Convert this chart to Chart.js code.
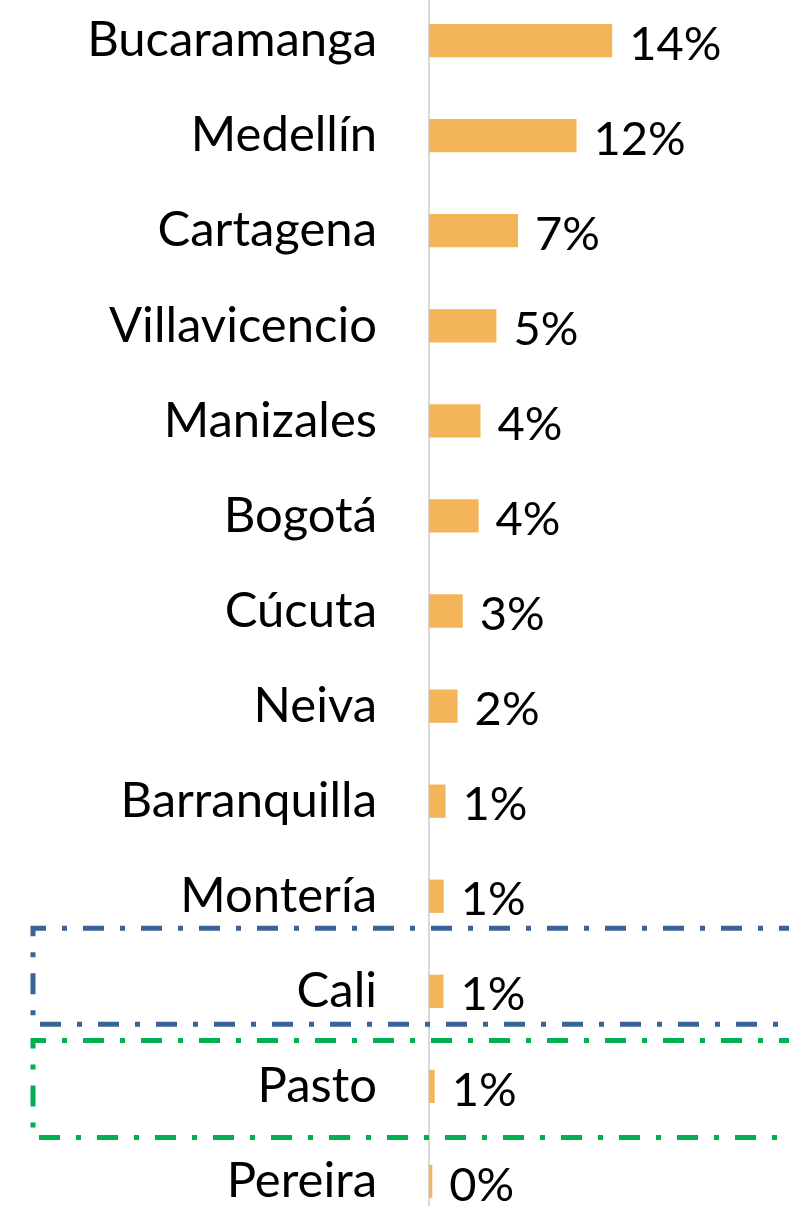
<!DOCTYPE html>
<html>
<head>
  <meta charset="UTF-8">
  <title>Ciudades</title>
  <script src="https://cdn.jsdelivr.net/npm/chart.js"></script>
  <style>
    html, body { margin: 0; padding: 0; background: #fff; overflow: hidden; }
    #wrap { position: relative; width: 789px; height: 1206px; overflow: hidden; }
    #chart { position: absolute; left: 0; top: -7px; }
  </style>
</head>
<body>
  <div id="wrap"><canvas id="chart" width="789" height="1236"></canvas></div>

  <script>
    const cities = ["Bucaramanga", "Medellín", "Cartagena", "Villavicencio", "Manizales", "Bogotá",
                    "Cúcuta", "Neiva", "Barranquilla", "Montería", "Cali", "Pasto", "Pereira"];
    const shares = [14.4, 11.6, 7.0, 5.3, 4.05, 3.9, 2.65, 2.25, 1.3, 1.16, 1.14, 0.45, 0.26];
    const shareLabels = ["14%", "12%", "7%", "5%", "4%", "4%", "3%", "2%", "1%", "1%", "1%", "1%", "0%"];

    // highlighted rows: [city, colour]
    const boxes = [["Cali", "#3A6496"], ["Pasto", "#00B050"]];

    const FONT = "Lato, 'Open Sans', sans-serif";

    const valueLabels = {
      id: "valueLabels",
      afterDatasetsDraw(chart) {
        const ctx = chart.ctx;
        const meta = chart.getDatasetMeta(0);
        ctx.save();
        ctx.font = "47px " + FONT;
        ctx.fillStyle = "#000";
        ctx.textAlign = "left";
        ctx.textBaseline = "middle";
        meta.data.forEach((bar, i) => {
          ctx.fillText(shareLabels[i], bar.x + 17, bar.y + 4);
        });
        ctx.restore();
      }
    };

    const dashBoxes = {
      id: "dashBoxes",
      afterDraw(chart) {
        const ctx = chart.ctx;
        const y = chart.scales.y;
        ctx.save();
        ctx.lineWidth = 5;
        ctx.setLineDash([21, 16, 5, 16]);
        boxes.forEach(([city, color], k) => {
          const cy = y.getPixelForValue(cities.indexOf(city));
          const top = k === 0 ? cy - 63 : cy - 46;
          const bottom = k === 0 ? cy + 33 : cy + 51;
          ctx.strokeStyle = color;
          ctx.beginPath();
          ctx.moveTo(800, top);
          ctx.lineTo(33, top);
          ctx.lineTo(33, bottom);
          ctx.lineTo(800, bottom);
          ctx.stroke();
        });
        ctx.restore();
      }
    };

    function draw() {
      new Chart(document.getElementById("chart").getContext("2d"), {
        type: "bar",
        data: {
          labels: cities,
          datasets: [{
            data: shares,
            backgroundColor: "#F4B459",
            borderWidth: 0,
            categoryPercentage: 1,
            barPercentage: 0.35
          }]
        },
        options: {
          indexAxis: "y",
          responsive: false,
          animation: false,
          devicePixelRatio: 1,
          layout: { padding: 0 },
          plugins: { legend: { display: false }, tooltip: { enabled: false } },
          scales: {
            x: {
              display: false,
              min: 0,
              max: 28.3
            },
            y: {
              afterFit(scale) {
                scale.width = 429;
                scale.paddingTop = 0;
                scale.paddingBottom = 0;
              },
              grid: { display: false, drawTicks: false },
              border: { display: true, color: "#D9D9D9", width: 2 },
              ticks: {
                padding: 52,
                color: "#000",
                font: { family: FONT, size: 49 }
              }
            }
          }
        },
        plugins: [valueLabels, dashBoxes]
      });
    }

    document.fonts.load("49px Lato").then(draw, draw);
  </script>
</body>
</html>
